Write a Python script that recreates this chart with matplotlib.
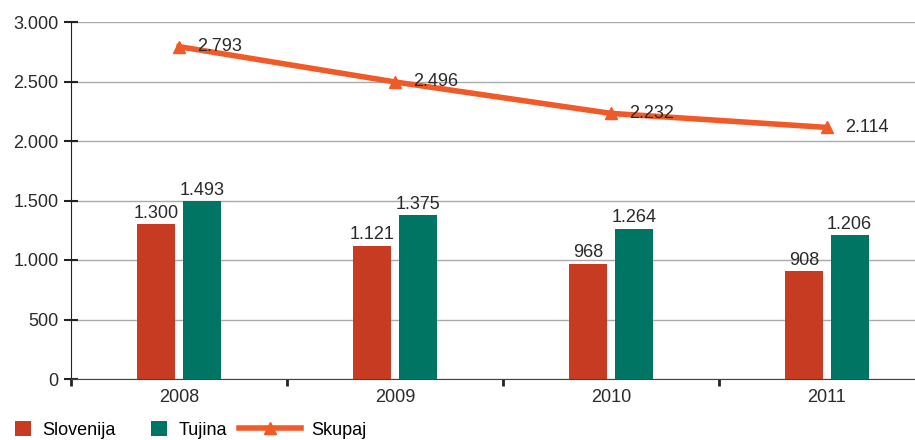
import numpy as np
import matplotlib.pyplot as plt

plt.rcParams['font.family'] = ['Liberation Sans', 'DejaVu Sans']

years = ['2008', '2009', '2010', '2011']
slovenija = [1300, 1121, 968, 908]
tujina = [1493, 1375, 1264, 1206]
skupaj = [2793, 2496, 2232, 2114]

c_red = '#C63B22'
c_green = '#007563'
c_orange = '#F05A28'
txt = '#2A2A2A'
fs = 13

def fmt(v):
    return f'{v:,}'.replace(',', '.')

fig = plt.figure(figsize=(9.15, 4.4), dpi=100)
ax = fig.add_axes([71 / 915, 61 / 440, 864 / 915, 357 / 440])

x = np.arange(len(years))
w = 0.175
b1 = ax.bar(x - 0.105, slovenija, w, color=c_red, zorder=3)
b2 = ax.bar(x + 0.105, tujina, w, color=c_green, zorder=3)
ln, = ax.plot(x, skupaj, color=c_orange, lw=4, marker='^', ms=9, zorder=4)

for xi, v in zip(x, slovenija):
    ax.text(xi - 0.105, v + 20, fmt(v), ha='center', va='bottom', fontsize=fs, color=txt, zorder=5)
for xi, v in zip(x, tujina):
    ax.text(xi + 0.105, v + 20, fmt(v), ha='center', va='bottom', fontsize=fs, color=txt, zorder=5)
for xi, v in zip(x, skupaj):
    ax.text(xi + 0.085, v, fmt(v), ha='left', va='center', fontsize=fs, color=txt, zorder=5)

ax.set_xlim(-0.5, 3.5)
ax.set_ylim(0, 3000)
ax.set_yticks(np.arange(0, 3001, 500))
ax.set_yticklabels([fmt(v) for v in range(0, 3001, 500)], fontsize=fs, color=txt)
ax.set_xticks(x)
ax.set_xticklabels(years, fontsize=fs, color=txt)
ax.tick_params(axis='x', length=0, pad=7)
ax.set_xticks([-0.5, 0.5, 1.5, 2.5], minor=True)
ax.tick_params(axis='x', which='minor', length=5, width=2, direction='out', color='#222222')
ax.tick_params(axis='y', length=10, width=1.5, direction='inout', color='#222222', pad=4)

ax.grid(axis='y', color='#AAAAAA', lw=1, zorder=0)
for s in ['top', 'right']:
    ax.spines[s].set_visible(False)
ax.spines['left'].set_color('#222222')
ax.spines['bottom'].set_color('#444444')

# legend: one entry each so the line handle can be longer
legend_items = [(b1, 'Slovenija', 0.9, 8 / 915),
                (b2, 'Tujina', 0.9, 144 / 915),
                (ln, 'Skupaj', 3.4, 232 / 915)]
for h, lab, hl, xpos in legend_items:
    fig.legend(handles=[h], labels=[lab], loc='center left',
               bbox_to_anchor=(xpos, 10 / 440), frameon=False, fontsize=fs,
               handlelength=hl, handleheight=0.9, handletextpad=0.6,
               borderaxespad=0)

fig.savefig('out.png', dpi=100)
